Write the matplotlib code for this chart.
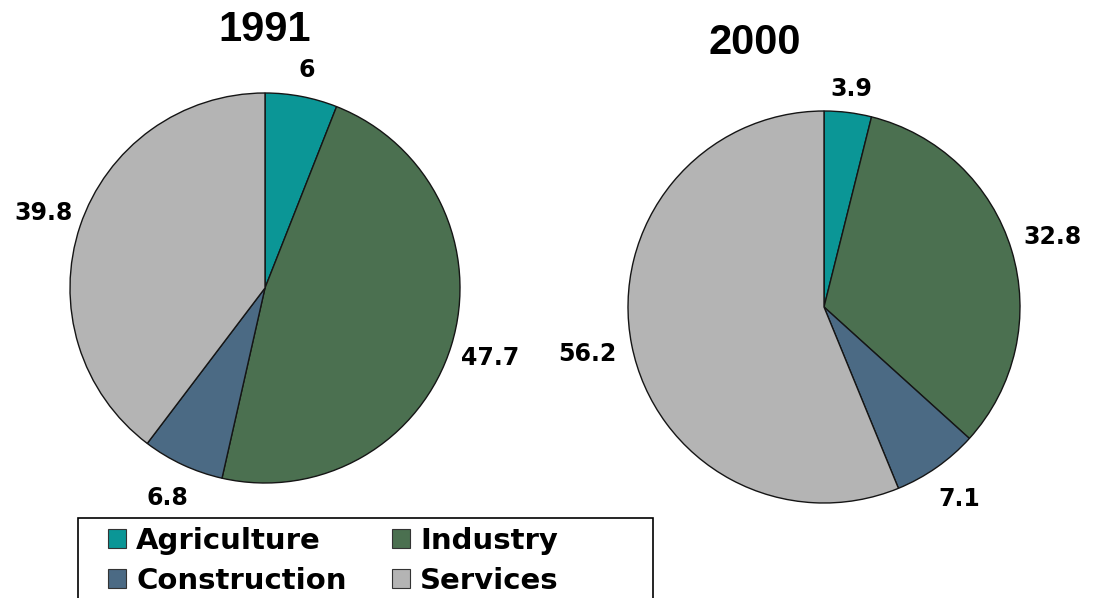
import matplotlib
matplotlib.use("Agg")
import matplotlib.pyplot as plt
from matplotlib.patches import Patch, Rectangle

sectors = ["Agriculture", "Industry", "Construction", "Services"]
colors = ["#0b9696", "#4b7050", "#4b6a84", "#b4b4b4"]
years = ["1991", "2000"]
share_1991 = [6, 47.7, 6.8, 39.8]
share_2000 = [3.9, 32.8, 7.1, 56.2]
labels_1991 = ["6", "47.7", "6.8", "39.8"]
labels_2000 = ["3.9", "32.8", "7.1", "56.2"]

# label distance per slice (fraction of radius)
dist_1991 = [1.14, 1.21, 1.19, 1.2]
dist_2000 = [1.12, 1.22, 1.2, 1.23]

W, H = 1094, 598
fig = plt.figure(figsize=(W / 100, H / 100), dpi=100)


def pie_axes(cx, cy, r):
    # axes square around pie centre (pixel coords, y from top)
    ax = fig.add_axes([(cx - r) / W, (H - cy - r) / H, 2 * r / W, 2 * r / H])
    ax.axis("off")
    return ax


def draw_pie(ax, vals, labs, dists, title, title_xy):
    wedges, texts = ax.pie(vals, labels=labs, colors=colors, startangle=90,
                           counterclock=False, labeldistance=1.0, radius=1,
                           wedgeprops=dict(edgecolor="#151515", linewidth=1.0),
                           textprops=dict(fontsize=17, fontweight="bold",
                                          family="DejaVu Sans"))
    for t, d in zip(texts, dists):
        x, y = t.get_position()
        t.set_position((x * d, y * d))
        t.set_ha("center")
        t.set_va("center")
        t.set_clip_on(False)
    for w in wedges:
        w.set_clip_on(False)
    ax.set_aspect("auto")
    ax.set_xlim(-1, 1)
    ax.set_ylim(-1, 1)
    fig.text(title_xy[0] / W, 1 - title_xy[1] / H, title, fontsize=30,
             fontweight="bold", family="Liberation Sans", ha="center", va="center")


ax1 = pie_axes(265, 288, 195)
draw_pie(ax1, share_1991, labels_1991, dist_1991, years[0], (265, 30))
ax2 = pie_axes(824, 307, 196)
draw_pie(ax2, share_2000, labels_2000, dist_2000, years[1], (755, 43))

# legend box, running off the bottom edge
fig.patches.append(Rectangle((78 / W, -0.01), (653 - 78) / W, 1 - 518 / H + 0.01,
                             transform=fig.transFigure, fill=False,
                             edgecolor="black", linewidth=1.2))

# legend fills column-wise: reorder so rows read Agriculture/Industry, Construction/Services
order = [0, 2, 1, 3]
handles = [Patch(facecolor=colors[i], edgecolor="#333333", linewidth=0.8) for i in order]
names = [sectors[i] for i in order]
fig.legend(handles, names, ncol=2, loc="upper left",
           bbox_to_anchor=(108 / W, 1 - 527 / H), frameon=False,
           borderpad=0, borderaxespad=0, handlelength=0.62, handleheight=0.62,
           handletextpad=0.35, columnspacing=1.55, labelspacing=0.4,
           prop=dict(size=21, weight="bold", family="DejaVu Sans"))

fig.savefig("out.png", dpi=100)
